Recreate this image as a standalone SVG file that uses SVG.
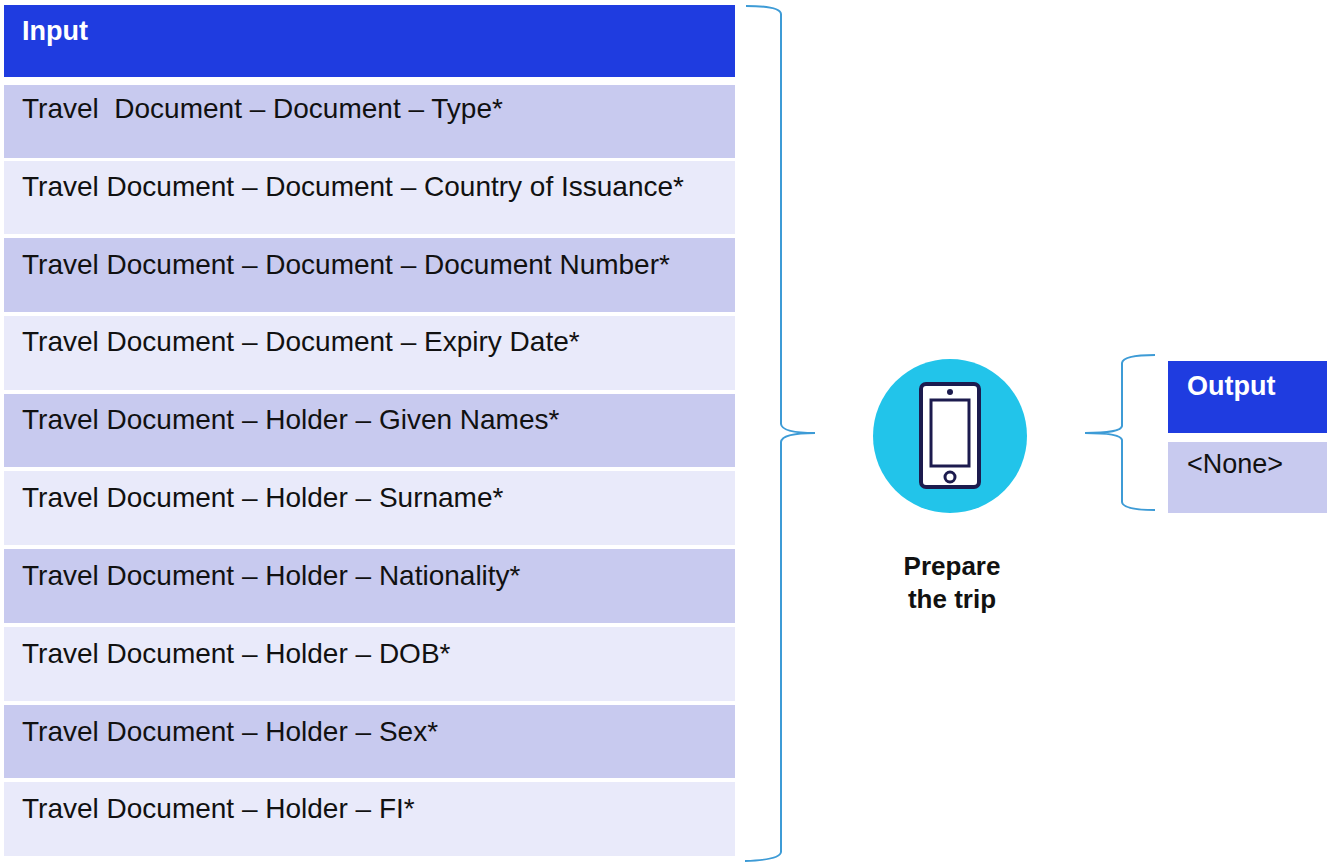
<svg xmlns="http://www.w3.org/2000/svg" width="1332" height="862" viewBox="0 0 1332 862">
<style>
.hdr{fill:#1f3ce0}
.dark{fill:#c8caef}
.light{fill:#e9eafa}
.t{font-family:"Liberation Sans",Arial,sans-serif;font-size:28px;fill:#111}
.h{font-family:"Liberation Sans",Arial,sans-serif;font-size:27px;font-weight:bold;fill:#fff}
.brace{fill:none;stroke:#3d9bd6;stroke-width:2}
.lbl{font-family:"Liberation Sans",Arial,sans-serif;font-size:26px;font-weight:bold;fill:#111;text-anchor:middle}
</style>
<rect width="1332" height="862" fill="#fff"/>
<g id="input-table">
<g id="input-header"><rect class="hdr" x="4" y="5" width="731" height="72"/><text class="h" x="22" y="40">Input</text></g>
<g id="row1"><rect class="dark" x="4" y="85" width="731" height="73"/><text class="t" x="22" y="118" xml:space="preserve">Travel  Document – Document – Type*</text></g>
<g id="row2"><rect class="light" x="4" y="161" width="731" height="73"/><text class="t" x="22" y="196">Travel Document – Document – Country of Issuance*</text></g>
<g id="row3"><rect class="dark" x="4" y="238" width="731" height="74"/><text class="t" x="22" y="274">Travel Document – Document – Document Number*</text></g>
<g id="row4"><rect class="light" x="4" y="316" width="731" height="74"/><text class="t" x="22" y="351">Travel Document – Document – Expiry Date*</text></g>
<g id="row5"><rect class="dark" x="4" y="394" width="731" height="73"/><text class="t" x="22" y="429">Travel Document – Holder – Given Names*</text></g>
<g id="row6"><rect class="light" x="4" y="471" width="731" height="74"/><text class="t" x="22" y="507">Travel Document – Holder – Surname*</text></g>
<g id="row7"><rect class="dark" x="4" y="549" width="731" height="74"/><text class="t" x="22" y="585">Travel Document – Holder – Nationality*</text></g>
<g id="row8"><rect class="light" x="4" y="627" width="731" height="74"/><text class="t" x="22" y="663">Travel Document – Holder – DOB*</text></g>
<g id="row9"><rect class="dark" x="4" y="705" width="731" height="73"/><text class="t" x="22" y="741">Travel Document – Holder – Sex*</text></g>
<g id="row10"><rect class="light" x="4" y="782" width="731" height="74"/><text class="t" x="22" y="818">Travel Document – Holder – FI*</text></g>
</g>
<g id="connectors">
<path class="brace" d="M746,6 Q780,6 781,14 L781,424 Q782,433 815,433 Q782,433 781,442 L781,852 Q780,860 745,861"/>
<path class="brace" d="M1155,355 Q1123,355 1122,363 L1122,426 Q1121,433 1085,433 Q1121,433 1122,440 L1122,502 Q1123,510 1155,510"/>
</g>
<g id="prepare-trip">
<circle cx="950" cy="436" r="77" fill="#22c4ea"/>
<rect x="921" y="384" width="58" height="103" rx="5" fill="#fff" stroke="#1c1b4e" stroke-width="4"/>
<rect x="931" y="400" width="38" height="66" fill="#fff" stroke="#1c1b4e" stroke-width="3"/>
<circle cx="950" cy="392" r="3" fill="#1c1b4e"/>
<circle cx="950" cy="477" r="5" fill="#fff" stroke="#1c1b4e" stroke-width="3"/>
<text class="lbl" x="952" y="575">Prepare</text>
<text class="lbl" x="952" y="608">the trip</text>
</g>
<g id="output-table">
<g id="output-header"><rect class="hdr" x="1168" y="361" width="159" height="72"/><text class="h" x="1187" y="395">Output</text></g>
<g id="output-row"><rect class="dark" x="1168" y="442" width="159" height="71"/><text class="t" x="1187" y="473" style="font-size:27px">&lt;None&gt;</text></g>
</g>
</svg>
